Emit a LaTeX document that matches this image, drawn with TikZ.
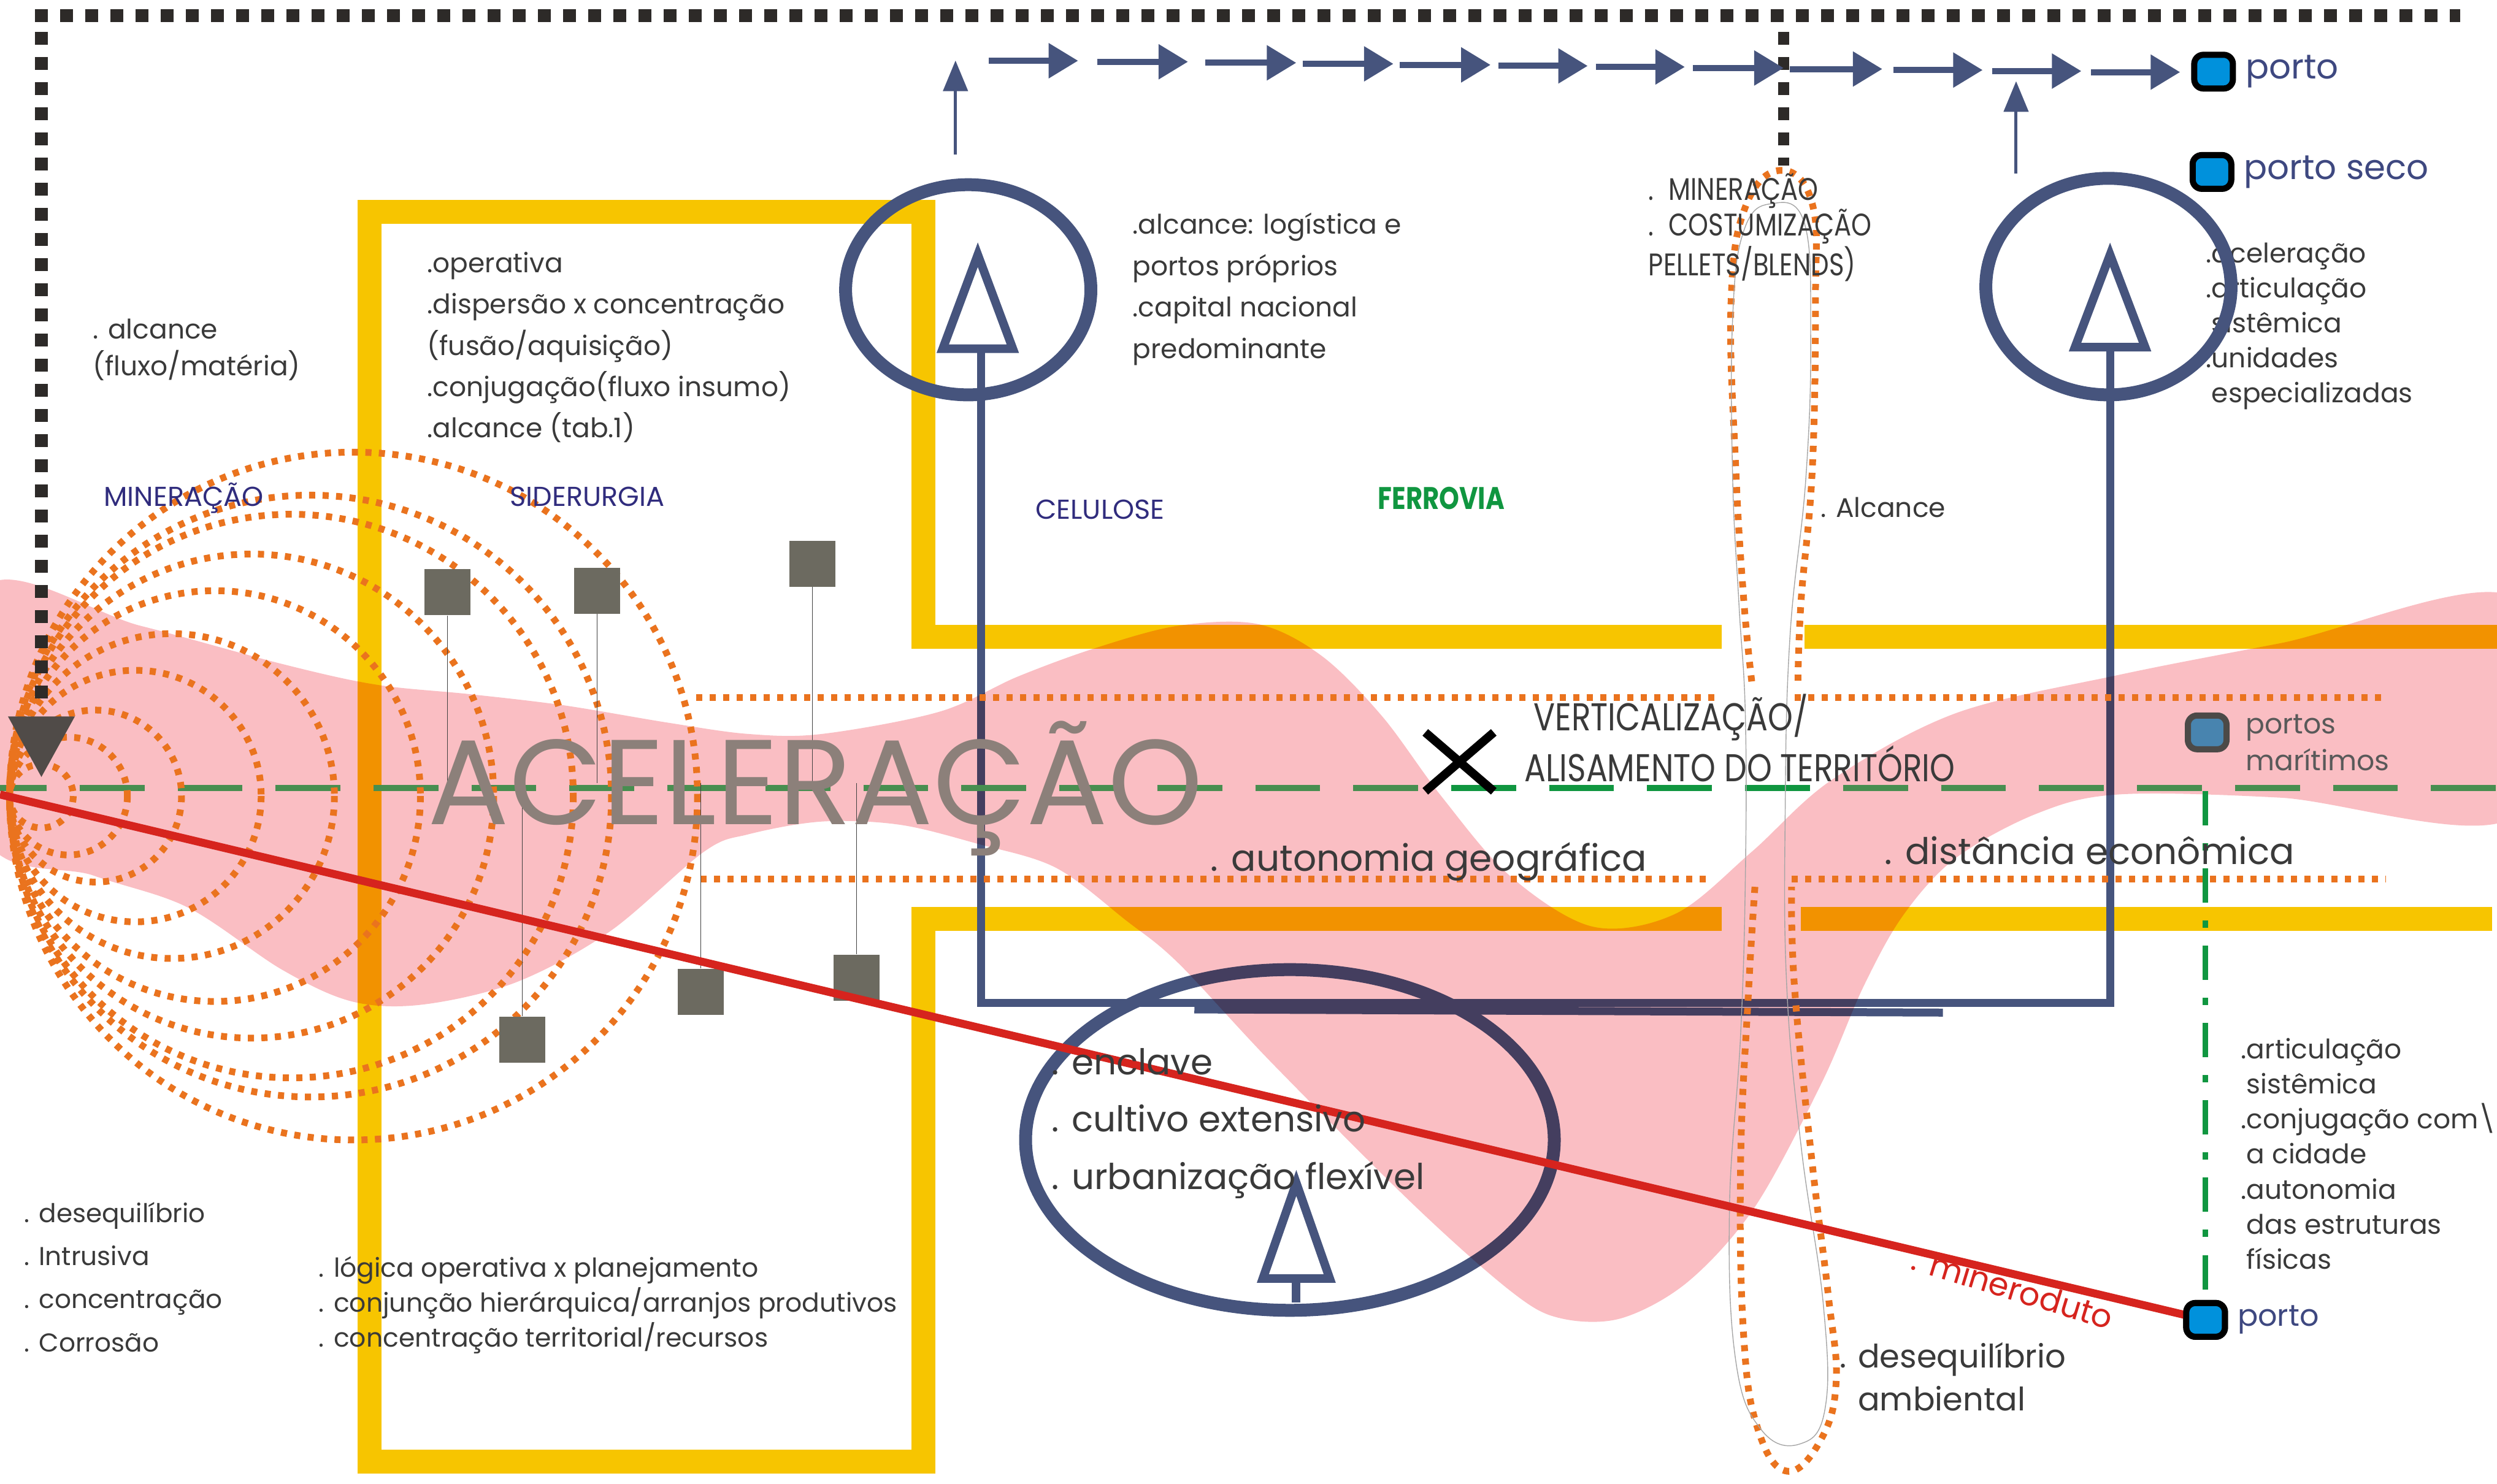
\documentclass[tikz,border=0pt]{standalone}
\usepackage{fontspec}
\setmainfont{Poppins}
\newfontfamily\narrowfont{Poppins}[FakeStretch=0.82]
\usetikzlibrary{arrows.meta,positioning}

\definecolor{railyellow}{RGB}{247,197,0}
\definecolor{slateblue}{RGB}{70,84,125}
\definecolor{blobpink}{RGB}{250,190,195}
\definecolor{dotorange}{RGB}{234,115,30}
\definecolor{axisgreen}{RGB}{72,142,80}
\definecolor{ferrogreen}{RGB}{16,150,64}
\definecolor{pipered}{RGB}{214,36,30}
\definecolor{textgrey}{RGB}{58,58,58}
\definecolor{labelblue}{RGB}{48,44,125}
\definecolor{portblue}{RGB}{0,145,220}
\definecolor{seablue}{RGB}{72,132,175}
\definecolor{plantgrey}{RGB}{108,106,96}
\definecolor{edgeblack}{RGB}{45,42,40}
\definecolor{headgrey}{RGB}{80,75,72}
\definecolor{acelgrey}{RGB}{140,128,122}
\definecolor{portlabel}{RGB}{62,72,128}

\tikzset{
  rail/.style={draw=railyellow, line width=3.9mm},
  slate/.style={draw=slateblue, line width=1.3mm},
  ring/.style={draw=slateblue, line width=2.1mm},
  tree/.style={draw=slateblue, line width=1.4mm},
  flowarrow/.style={draw=slateblue, line width=1mm, -{Triangle[length=4.8mm,width=5.5mm]}},
  risearrow/.style={draw=slateblue, line width=0.5mm, -{Triangle[length=5mm,width=4mm]}},
  bounddash/.style={draw=edgeblack, line width=2.1mm, dash pattern=on 2.1mm off 2mm},
  dotline/.style={draw=dotorange, line width=1.1mm, dash pattern=on 1mm off 1.2mm},
  axisline/.style={line width=1mm, dash pattern=on 10.57mm off 5.4mm},
  dashdot/.style={draw=ferrogreen, line width=0.9mm, dash pattern=on 5.6mm off 2.9mm on 1.2mm off 2.9mm},
  pipe/.style={draw=pipered, line width=1.3mm},
  seam/.style={draw=black!35, line width=0.4pt},
  plant/.style={fill=plantgrey, minimum size=7.5mm, inner sep=0pt},
  hang/.style={draw=black!75, line width=0.3pt},
  portsq/.style={draw=black, fill=portblue, line width=1mm, rounded corners=1.5mm,
    minimum width=6.3mm, minimum height=5.5mm, inner sep=0pt},
  portlbl/.style={text=portlabel, inner sep=0pt, font=\fontsize{16}{16}\selectfont},
  % base of a multi-line node = baseline of its last line
  note/.style={text=textgrey, align=left, anchor=base west, inner sep=0pt,
    font=\fontsize{12.5}{19.2}\selectfont},
  sector/.style={text=labelblue, anchor=base west, inner sep=0pt,
    font=\fontsize{12.7}{12.7}\selectfont},
  caps/.style={text=textgrey, align=left, anchor=base west, inner sep=0pt,
    font=\narrowfont\fontsize{14.5}{16.6}\selectfont}
}

\begin{document}
\begin{tikzpicture}[x=0.2596mm, y=-0.2596mm]
  \useasboundingbox (0,0) rectangle (1568,932);

  % setores e ferrovia
  \draw[rail] (1081,400) -- (580,400) -- (580,133) -- (232,133) -- (232,918)
    -- (580,918) -- (580,577) -- (1081,577);
  \draw[rail] (1133,400) -- (1568,400);
  \draw[rail] (1131,577) -- (1565,577);

  \draw[slate] (616,219) |- (1325,630) -- (1325,218);
  \draw[slate] (750,634) -- (1220,636);
  \draw[ring] (810,716) ellipse [x radius=166, y radius=107];
  \draw[tree] (814,743) -- (835,803) -- (793,803) -- cycle;
  \draw[tree] (814,803) -- (814,818);

  \begin{scope}[blend mode=multiply]
    \fill[blobpink] plot[smooth cycle, tension=0.55] coordinates {
      (-10,370) (88,393) (177,417) (236,430) (295,436) (354,443) (420,454) (470,461)
      (516,461) (590,447) (639,425) (688,407) (740,393) (790,392) (830,412) (868,450)
      (905,500) (948,550) (1000,582) (1052,574) (1100,535) (1150,490) (1228,448)
      (1330,424) (1432,404) (1580,376) (1580,512) (1432,501) (1330,499) (1279,511)
      (1228,539) (1195,575) (1170,620) (1144,680) (1102,758) (1060,805) (1018,828)
      (980,828) (950,812) (889,758) (799,668) (740,605) (707,578) (663,545) (614,530)
      (565,518) (516,516) (470,524) (442,535) (383,585) (324,617) (265,631) (221,629)
      (177,609) (118,570) (59,550) (-10,524)};
  \end{scope}

  \draw[axisline, axisgreen] (-11.5,495) -- (1580,495);
  \begin{scope}
    \clip (902,480) rectangle (1146,510);
    \draw[axisline, ferrogreen] (-11.5,495) -- (1580,495);
  \end{scope}

  \foreach \r in {216,189,177,152,129,102,79,54,37,20}
    \draw[dotline] (6+\r,500) circle [radius=\r];
  \draw[dotline] (437,438) -- (1078,438);
  \draw[dotline] (1127,438) -- (1498,438);
  \draw[dotline] (440,552) -- (1074,552);
  \draw[dotline] (1125,552) -- (1498,552);
  \draw[dotline] plot[smooth, tension=0.7] coordinates {(1100,428) (1095,377) (1090,295)
    (1087,190) (1096,130) (1118,107) (1138,128) (1140,190) (1138,295) (1131,377) (1129,428)};
  \draw[dotline] plot[smooth, tension=0.7] coordinates {(1102,557) (1098,622) (1093,731)
    (1095,840) (1104,898) (1122,924) (1143,905) (1153,868) (1148,813) (1138,731)
    (1127,622) (1125,557)};
  \draw[seam] plot[smooth cycle, tension=0.7] coordinates {(1112,128) (1133,140) (1137,210)
    (1134,300) (1124,400) (1121,510) (1122,620) (1131,720) (1145,820) (1146,885)
    (1130,907) (1106,898) (1090,855) (1086,760) (1093,650) (1096,550) (1096,450)
    (1092,380) (1088,300) (1088,200) (1095,145)};

  \coordinate (axis) at (0,492);
  \node[plant] (plantA) at (281,372) {};
  \node[plant] (plantB) at (375,371) {};
  \node[plant] (plantC) at (510,354) {};
  \node[plant] (plantD) at (328,653) {};
  \node[plant] (plantE) at (440,623) {};
  \node[plant] (plantF) at (538,614) {};
  \foreach \p in {plantA,plantB,plantC,plantD,plantE,plantF}
    \draw[hang] (\p) -- (\p |- axis);

  \node[anchor=base, inner sep=0pt, text=acelgrey, font=\fontsize{56}{56}\selectfont]
    (aceleracao) at (512,518) {ACELERAÇÃO};

  % portos
  \node[portsq] (portoA) at (1390,45) {};
  \node[portlbl, right=1.5mm of portoA] (portoAlbl) {porto};
  \node[portsq] (portoSeco) at (1389,108) {};
  \node[portlbl, right=1.5mm of portoSeco] (portoSecolbl) {porto seco};
  \node[portsq, draw=edgeblack!85, fill=seablue] (portoMar) at (1386,460) {};
  \node[note, text=black!65, font=\fontsize{13}{17}\selectfont] (portoMarlbl) at (1410,484)
    {portos\\marítimos};
  \node[portsq] (portoC) at (1385,829) {};
  \coordinate (pipestart) at (0,499);
  \coordinate (dashtop) at (1385,497);
  \draw[pipe] (pipestart) -- (portoC.center);
  \draw[dashdot] (dashtop) -- (portoC.north);
  \node[portsq] at (portoC) {};
  \node[portlbl, font=\fontsize{14}{14}\selectfont, right=1.5mm of portoC] (portoClbl) {porto};

  % limites e fluxo
  \draw[bounddash] (22,10) -- (1545,10);
  \draw[bounddash] (26,20) -- (26,446);
  \fill[headgrey] (5,450) -- (47,450) -- (26,488) -- cycle;
  \draw[bounddash, line width=1.8mm] (1120,20) -- (1120,104);
  \foreach \xs/\xe [count=\k] in {621/677,689/746,757/814,818/875,879/936,941/997,
      1002/1058,1063/1120,1124/1182,1189/1245,1251/1307,1313/1369}
    \draw[flowarrow] (\xs,{37.5+0.65*\k}) -- (\xe,{37.5+0.65*\k});
  \draw[risearrow] (600,97) -- (600,38);
  \draw[risearrow] (1266,109) -- (1266,51);

  % textos
  \node[note, font=\fontsize{12.5}{17}\selectfont] (alcance) at (58,236) {. alcance\\(fluxo/matéria)};
  \node[note] (operativa) at (268,275) {.operativa\\.dispersão x concentração\\(fusão/aquisição)\\.conjugação(fluxo insumo)\\.alcance (tab.1)};
  \node[note] (logistica) at (711,225) {.alcance: logística e\\portos próprios\\.capital nacional\\predominante};
  \node[caps] (costumizacao) at (1035,173) {.\hspace{2.4mm}MINERAÇÃO\\.\hspace{2.4mm}COSTUMIZAÇÃO\\PELLETS/BLENDS)};
  \node[note, font=\fontsize{12.5}{16.25}\selectfont] (unidades) at (1385,253)
    {.aceleração\\.articulação\\\phantom{.}sistêmica\\.unidades\\\phantom{.}especializadas};
  \node[sector] (mineracao) at (65,318) {MINERAÇÃO};
  \node[sector] (siderurgia) at (320,318) {SIDERURGIA};
  \node[sector] (celulose) at (650,326) {CELULOSE};
  \node[sector, text=ferrogreen, font=\narrowfont\bfseries\fontsize{14.5}{14.5}\selectfont]
    (ferrovia) at (865,320) {FERROVIA};
  \node[note] (alcanceB) at (1143,325) {. Alcance};
  \node[caps, font=\narrowfont\fontsize{18}{23.6}\selectfont] (alisamento) at (957,491)
    {\hspace{1.5mm}VERTICALIZAÇÃO/\\ALISAMENTO DO TERRITÓRIO};
  \node[note, font=\fontsize{17}{17}\selectfont] (autonomia) at (760,547) {. autonomia geográfica};
  \node[note, font=\fontsize{17}{17}\selectfont] (distancia) at (1183,543) {. distância econômica};
  \node[note, font=\fontsize{16.5}{26.6}\selectfont] (enclave) at (660,747)
    {. enclave\\. cultivo extensivo\\. urbanização flexível};
  \node[note, font=\fontsize{12}{20}\selectfont] (corrosao) at (15,849)
    {. desequilíbrio\\. Intrusiva\\. concentração\\. Corrosão};
  \node[note, font=\fontsize{12.1}{16.25}\selectfont] (logica) at (200,846)
    {. lógica operativa x planejamento\\. conjunção hierárquica/arranjos produtivos\\. concentração territorial/recursos};
  \node[note, font=\fontsize{15}{20}\selectfont] (ambiental) at (1155,886)
    {. desequilíbrio\\\phantom{. }ambiental};
  \node[note, font=\fontsize{12.5}{16.25}\selectfont] (fisicas) at (1407,797)
    {.articulação\\\phantom{.}sistêmica\\.conjugação com\textbackslash\\\phantom{.}a cidade\\.autonomia\\\phantom{.}das estruturas\\\phantom{.}físicas};
  \node[anchor=base west, inner sep=0pt, text=pipered, rotate=-17, font=\fontsize{15}{15}\selectfont]
    (mineroduto) at (1199,797) {. mineroduto};

  \draw[line width=1.4mm] (895,460) -- (938,497) (938,460) -- (895,497);

  \draw[ring] (608,182) ellipse [x radius=77, y radius=66];
  \draw[tree] (614,160) -- (636,219) -- (592,219) -- cycle;
  \draw[ring] (1324,180) ellipse [x radius=77, y radius=68];
  \draw[tree] (1325,160) -- (1347,218) -- (1303,218) -- cycle;
\end{tikzpicture}
\end{document}
